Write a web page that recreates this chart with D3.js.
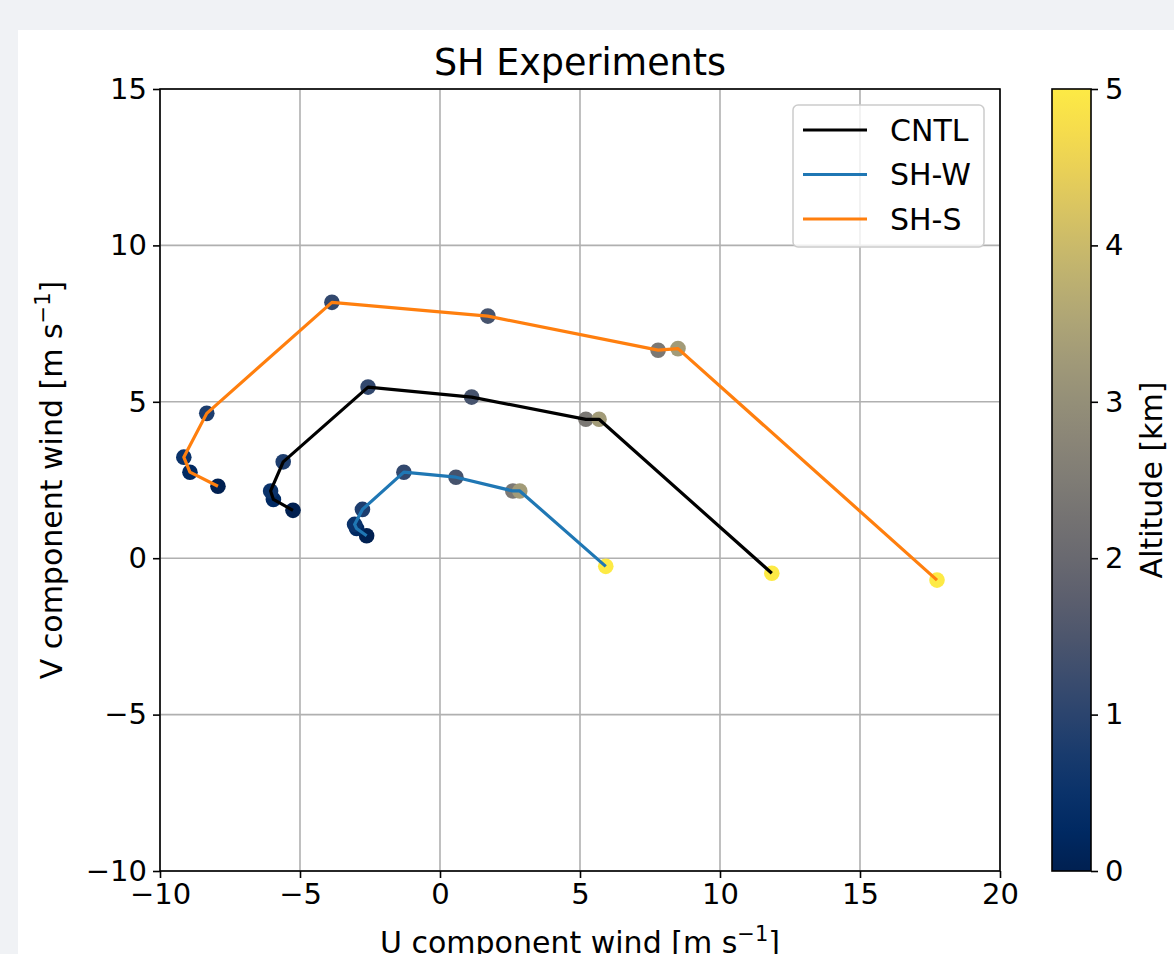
<!DOCTYPE html>
<html>
<head>
<meta charset="utf-8">
<script src="https://cdn.jsdelivr.net/npm/d3@7"></script>
<style>
  html, body { margin: 0; padding: 0; background: #f0f2f5; }
  body { width: 1174px; height: 954px; overflow: hidden; position: relative; }
  .card { position: absolute; left: 18px; top: 30px; right: 0; bottom: 0; background: #ffffff; }
  svg { position: absolute; left: 0; top: 0; }
  text { font-family: "DejaVu Sans", sans-serif; fill: #000; }
</style>
</head>
<body>
<div class="card"></div>
<svg id="chart" width="1174" height="954"></svg>
<script>
// Hodograph data: wind components (m/s) at each level, altitude (km) per level
const altitude = [0.0, 0.25, 0.5, 0.8, 1.1, 1.4, 2.4, 3.3, 5.0];

const cntlU = [-5.25, -5.95, -6.05, -5.6, -2.57, 1.13, 5.21, 5.68, 11.85];
const cntlV = [1.53, 1.88, 2.15, 3.08, 5.47, 5.15, 4.44, 4.44, -0.48];

const shwU = [-2.62, -2.98, -3.05, -2.77, -1.29, 0.57, 2.6, 2.85, 5.92];
const shwV = [0.72, 0.95, 1.08, 1.56, 2.75, 2.59, 2.15, 2.15, -0.26];

const shsU = [-7.93, -8.93, -9.15, -8.33, -3.86, 1.71, 7.79, 8.5, 17.75];
const shsV = [2.30, 2.75, 3.23, 4.63, 8.18, 7.74, 6.65, 6.7, -0.7];

const seriesNames = ["CNTL", "SH-W", "SH-S"];
const seriesColors = ["#000000", "#1f77b4", "#ff7f0e"];

const xTicks = [-10, -5, 0, 5, 10, 15, 20];
const yTicks = [-10, -5, 0, 5, 10, 15];
const cbarTicks = [0, 1, 2, 3, 4, 5];

const series = [
  { name: seriesNames[0], color: seriesColors[0], u: cntlU, v: cntlV },
  { name: seriesNames[1], color: seriesColors[1], u: shwU, v: shwV },
  { name: seriesNames[2], color: seriesColors[2], u: shsU, v: shsV }
];

const svg = d3.select("#chart");
const plot = { left: 160, right: 1000, top: 89, bottom: 871 };
const tickFs = 29;
const labelFs = 30;

const x = d3.scaleLinear().domain([-10, 20]).range([plot.left, plot.right]);
const y = d3.scaleLinear().domain([-10, 15]).range([plot.bottom, plot.top]);
const color = d3.scaleSequential(d3.interpolateCividis).domain([0, 5]);

const fmt = d => (d < 0 ? "\u2212" + Math.abs(d) : String(d));

// grid
const grid = svg.append("g");
grid.selectAll(".gx").data(xTicks).join("line")
  .attr("x1", d => x(d)).attr("x2", d => x(d))
  .attr("y1", plot.top).attr("y2", plot.bottom)
  .attr("stroke", "#b0b0b0").attr("stroke-width", 1.6);
grid.selectAll(".gy").data(yTicks).join("line")
  .attr("y1", d => y(d)).attr("y2", d => y(d))
  .attr("x1", plot.left).attr("x2", plot.right)
  .attr("stroke", "#b0b0b0").attr("stroke-width", 1.6);

// scatter points coloured by altitude (drawn beneath the lines)
const pts = svg.append("g");
series.forEach(s => {
  pts.selectAll(null).data(s.u.map((u, i) => ({ u, v: s.v[i], a: altitude[i] })))
    .join("circle")
    .attr("cx", d => x(d.u)).attr("cy", d => y(d.v))
    .attr("r", 7.8)
    .attr("fill", d => color(d.a));
});

// hodograph lines
const line = d3.line().x(d => x(d[0])).y(d => y(d[1]));
series.forEach(s => {
  svg.append("path")
    .datum(s.u.map((u, i) => [u, s.v[i]]))
    .attr("d", line)
    .attr("fill", "none")
    .attr("stroke", s.color)
    .attr("stroke-width", 3.2)
    .attr("stroke-linejoin", "round");
});

// axes
const xAxis = d3.axisBottom(x).tickValues(xTicks).tickFormat(fmt).tickSize(7).tickPadding(5);
const yAxis = d3.axisLeft(y).tickValues(yTicks).tickFormat(fmt).tickSize(7).tickPadding(6);

const gx = svg.append("g").attr("transform", `translate(0,${plot.bottom})`).call(xAxis);
const gy = svg.append("g").attr("transform", `translate(${plot.left},0)`).call(yAxis);
[gx, gy].forEach(g => {
  g.select(".domain").remove();
  g.selectAll(".tick line").attr("stroke", "#000").attr("stroke-width", 1.6);
  g.selectAll(".tick text").style("font-family", "DejaVu Sans").style("font-size", tickFs + "px").attr("fill", "#000");
});
gx.selectAll(".tick text").attr("dy", "0.71em");

// frame
svg.append("rect")
  .attr("x", plot.left).attr("y", plot.top)
  .attr("width", plot.right - plot.left).attr("height", plot.bottom - plot.top)
  .attr("fill", "none").attr("stroke", "#000").attr("stroke-width", 1.6);

// title and axis labels
svg.append("text")
  .attr("x", (plot.left + plot.right) / 2).attr("y", 75)
  .attr("text-anchor", "middle").style("font-size", "36.5px")
  .text("SH Experiments");

const xl = svg.append("text")
  .attr("x", (plot.left + plot.right) / 2).attr("y", 953)
  .attr("text-anchor", "middle").style("font-size", labelFs + "px");
xl.append("tspan").text("U component wind [m s");
xl.append("tspan").attr("dy", -12).style("font-size", "21px").text("\u22121");
xl.append("tspan").attr("dy", 12).text("]");

const yl = svg.append("text")
  .attr("transform", `translate(62,${(plot.top + plot.bottom) / 2}) rotate(-90)`)
  .attr("text-anchor", "middle").style("font-size", labelFs + "px");
yl.append("tspan").text("V component wind [m s");
yl.append("tspan").attr("dy", -12).style("font-size", "21px").text("\u22121");
yl.append("tspan").attr("dy", 12).text("]");

// legend
const leg = svg.append("g").attr("transform", "translate(793,105)");
leg.append("rect")
  .attr("width", 191).attr("height", 142).attr("rx", 5)
  .attr("fill", "#ffffff").attr("fill-opacity", 0.8)
  .attr("stroke", "#cccccc").attr("stroke-width", 1.5);
series.forEach((s, i) => {
  const yy = 25 + i * 44.5;
  leg.append("line").attr("x1", 10).attr("x2", 74).attr("y1", yy).attr("y2", yy)
    .attr("stroke", s.color).attr("stroke-width", 3.2);
  leg.append("text").attr("x", 97).attr("y", yy).attr("dy", "0.36em")
    .style("font-size", labelFs + "px").text(s.name);
});

// colorbar
const cb = { left: 1052, right: 1091, top: 89, bottom: 871 };
const cbScale = d3.scaleLinear().domain([0, 5]).range([cb.bottom, cb.top]);
const defs = svg.append("defs");
const grad = defs.append("linearGradient").attr("id", "cividis")
  .attr("x1", 0).attr("y1", 1).attr("x2", 0).attr("y2", 0);
d3.range(0, 1.0001, 0.05).forEach(t => {
  grad.append("stop").attr("offset", t).attr("stop-color", d3.interpolateCividis(t));
});
svg.append("rect")
  .attr("x", cb.left).attr("y", cb.top)
  .attr("width", cb.right - cb.left).attr("height", cb.bottom - cb.top)
  .attr("fill", "url(#cividis)").attr("stroke", "#000").attr("stroke-width", 1.6);
const cAxis = d3.axisRight(cbScale).tickValues(cbarTicks).tickFormat(d3.format("d")).tickSize(7).tickPadding(7);
const gc = svg.append("g").attr("transform", `translate(${cb.right},0)`).call(cAxis);
gc.select(".domain").remove();
gc.selectAll(".tick line").attr("stroke", "#000").attr("stroke-width", 1.6);
gc.selectAll(".tick text").style("font-family", "DejaVu Sans").style("font-size", tickFs + "px").attr("fill", "#000");

svg.append("text")
  .attr("transform", `translate(1162,${(cb.top + cb.bottom) / 2}) rotate(-90)`)
  .attr("text-anchor", "middle").style("font-size", labelFs + "px")
  .text("Altitude [km]");
</script>
</body>
</html>
